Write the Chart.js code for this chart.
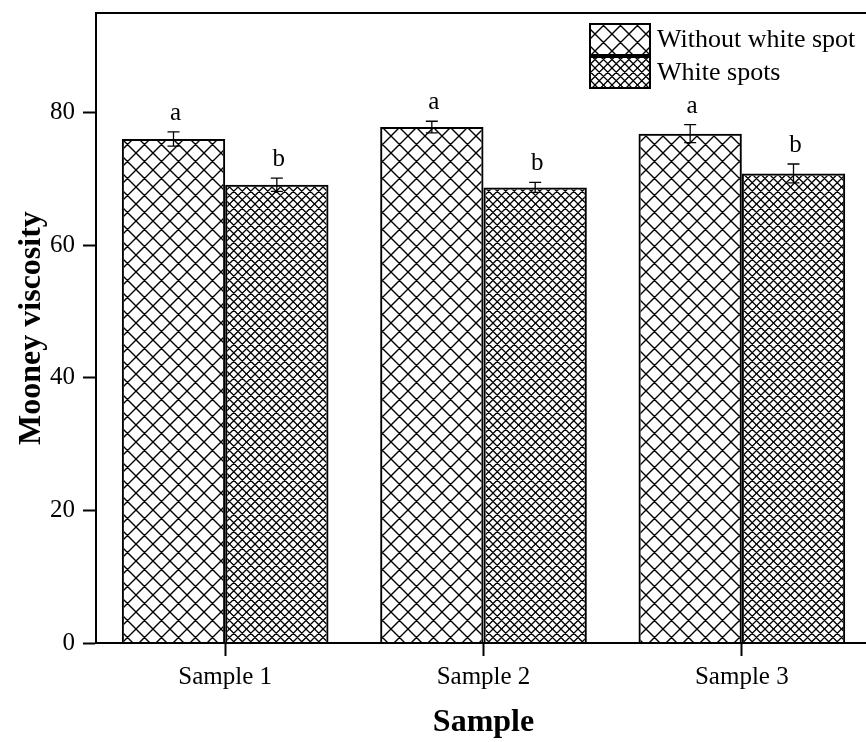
<!DOCTYPE html>
<html>
<head>
<meta charset="utf-8">
<title>Mooney viscosity</title>
<script src="https://cdn.jsdelivr.net/npm/chart.js@4/dist/chart.umd.min.js"></script>
<style>
  html, body { margin: 0; padding: 0; background: #fff; overflow: hidden; }
  #wrap { width: 876px; height: 742px; }
</style>
</head>
<body>
<div id="wrap"><canvas id="mooneyChart" width="876" height="742"></canvas></div>
<script>
// Sample categories and measured Mooney viscosity (mean and error)
const samples = ['Sample 1', 'Sample 2', 'Sample 3'];
const seriesNames = ['Without white spot', 'White spots'];
const noSpotValues = [76.0, 77.8, 76.8];
const noSpotErrors = [1.06, 0.88, 1.36];
const spotValues = [69.1, 68.7, 70.8];
const spotErrors = [1.0, 0.75, 1.43];
const noSpotLetters = ['a', 'a', 'a'];
const spotLetters = ['b', 'b', 'b'];
const yTicks = [0, 20, 40, 60, 80];

const SERIF = '"Liberation Serif", "Times New Roman", Times, serif';

// cross hatch tile: two sets of diagonals, `step` apart, on a `tile` square
function makeHatch(tile, step, lw) {
    const c = document.createElement('canvas');
    c.width = tile;
    c.height = tile;
    const g = c.getContext('2d');
    g.strokeStyle = '#000';
    g.lineWidth = lw;
    g.beginPath();
    for (let o = -tile; o <= 2 * tile; o += step) {
        g.moveTo(o - tile, -tile);
        g.lineTo(o + 2 * tile, 2 * tile);
        g.moveTo(o + tile, -tile);
        g.lineTo(o - 2 * tile, 2 * tile);
    }
    g.stroke();
    return c;
}

const ctx = document.getElementById('mooneyChart').getContext('2d');
const wideHatch = ctx.createPattern(makeHatch(17, 17, 1.4), 'repeat');
const fineHatch = ctx.createPattern(makeHatch(17, 8.5, 1.3), 'repeat');

const errors = [noSpotErrors, spotErrors];
const letters = [noSpotLetters, spotLetters];
const hatches = [wideHatch, fineHatch];

const extrasPlugin = {
    id: 'extras',
    afterDatasetsDraw(chart) {
        const c = chart.ctx;
        const area = chart.chartArea;
        const y = chart.scales.y;

        c.save();
        // top frame line
        c.strokeStyle = '#000';
        c.lineWidth = 2;
        c.beginPath();
        c.moveTo(area.left - 1, area.top);
        c.lineTo(area.right, area.top);
        c.stroke();

        // error bars and significance letters
        c.lineWidth = 1.3;
        c.font = '25px ' + SERIF;
        c.fillStyle = '#000';
        c.textAlign = 'center';
        c.textBaseline = 'alphabetic';
        chart.data.datasets.forEach((ds, di) => {
            const meta = chart.getDatasetMeta(di);
            meta.data.forEach((bar, i) => {
                const v = ds.data[i];
                const e = errors[di][i];
                const top = y.getPixelForValue(v + e);
                const bot = y.getPixelForValue(v - e);
                const x = bar.x;
                c.beginPath();
                c.moveTo(x, top);
                c.lineTo(x, bot);
                c.moveTo(x - 6, top);
                c.lineTo(x + 6, top);
                c.moveTo(x - 6, bot);
                c.lineTo(x + 6, bot);
                c.stroke();
                c.fillText(letters[di][i], x + 2, top - 12);
            });
        });

        // legend
        const lx = 590, ly = 24, bw = 60, bh = 31;
        c.textAlign = 'left';
        c.textBaseline = 'middle';
        c.font = '26px ' + SERIF;
        seriesNames.forEach((name, i) => {
            const by = ly + i * (bh + 2);
            c.fillStyle = hatches[i];
            c.fillRect(lx, by, bw, bh);
            c.lineWidth = 2;
            c.strokeRect(lx, by, bw, bh);
            c.fillStyle = '#000';
            c.fillText(name, lx + bw + 7, by + bh / 2 + 1);
        });
        c.restore();
    }
};

new Chart(ctx, {
    type: 'bar',
    data: {
        labels: samples,
        datasets: [
            {
                label: seriesNames[0],
                data: noSpotValues,
                backgroundColor: wideHatch,
                borderColor: '#000',
                borderWidth: 2
            },
            {
                label: seriesNames[1],
                data: spotValues,
                backgroundColor: fineHatch,
                borderColor: '#000',
                borderWidth: 2
            }
        ]
    },
    options: {
        responsive: false,
        devicePixelRatio: 1,
        animation: false,
        layout: { padding: { top: 13, right: 5, left: 0, bottom: 0 } },
        datasets: {
            bar: { categoryPercentage: 0.8, barPercentage: 1.0 }
        },
        plugins: {
            legend: { display: false },
            tooltip: { enabled: false }
        },
        scales: {
            x: {
                afterFit(scale) {
                    scale.height = 99;
                    scale.paddingLeft = 0;
                    scale.paddingRight = 0;
                },
                grid: {
                    offset: false,
                    drawOnChartArea: false,
                    tickLength: 13,
                    tickWidth: 2,
                    tickColor: '#000'
                },
                border: { display: true, color: '#000', width: 2 },
                ticks: {
                    color: '#000',
                    padding: 6,
                    font: { family: SERIF, size: 25 }
                },
                title: {
                    display: true,
                    text: 'Sample',
                    color: '#000',
                    padding: 0,
                    font: { family: SERIF, size: 32, weight: 'bold' }
                }
            },
            y: {
                min: 0,
                max: 95,
                afterFit(scale) {
                    scale.width = 96;
                    scale.paddingTop = 0;
                    scale.paddingBottom = 0;
                },
                afterBuildTicks(scale) {
                    scale.ticks = yTicks.map(v => ({ value: v }));
                },
                grid: {
                    drawOnChartArea: false,
                    tickLength: 13,
                    tickWidth: 2,
                    tickColor: '#000'
                },
                border: { display: true, color: '#000', width: 2 },
                ticks: {
                    color: '#000',
                    padding: 8,
                    font: { family: SERIF, size: 25 }
                },
                title: {
                    display: true,
                    text: 'Mooney viscosity',
                    color: '#000',
                    padding: 13,
                    font: { family: SERIF, size: 32, weight: 'bold' }
                }
            }
        }
    },
    plugins: [extrasPlugin]
});
</script>
</body>
</html>
